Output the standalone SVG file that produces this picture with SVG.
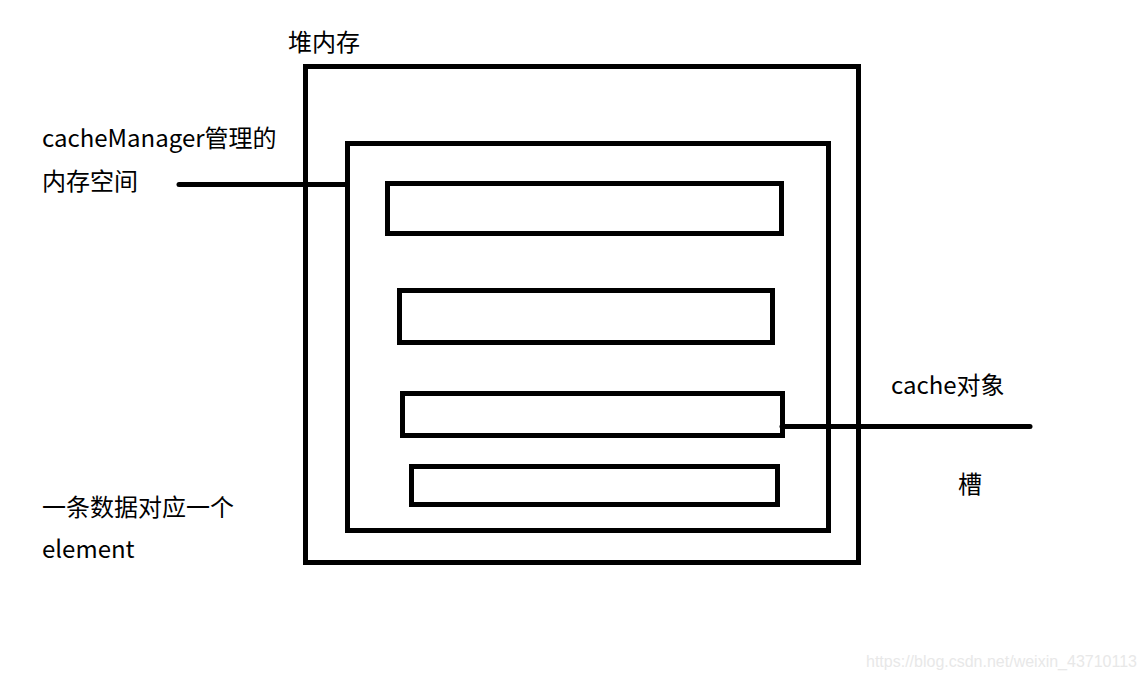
<svg xmlns="http://www.w3.org/2000/svg" width="1145" height="680" viewBox="0 0 1145 680">
<style>
.box{fill:none;stroke:#000;stroke-width:5}
.ln{fill:none;stroke:#000;stroke-width:5;stroke-linecap:round}
.t{font-family:"Microsoft YaHei","Noto Sans CJK SC",sans-serif;font-size:24px;fill:#000}
.wm{font-family:"Liberation Sans",Arial,sans-serif;font-size:16px;fill:#e8e8e8}
</style>
<rect width="1145" height="680" fill="#fff"/>
<g id="heap"><rect class="box" x="305.5" y="66.5" width="553" height="496"/><text class="t" x="288" y="51">堆内存</text></g>
<g id="cacheManager"><rect class="box" x="347.5" y="143.5" width="481" height="387"/></g>
<g id="slot1"><rect class="box" x="387.5" y="183.5" width="394" height="50"/></g>
<g id="slot2"><rect class="box" x="399.5" y="290.5" width="373" height="52"/></g>
<g id="slot3"><rect class="box" x="402.5" y="393.5" width="380" height="42"/></g>
<g id="slot4"><rect class="box" x="411.5" y="466.5" width="366" height="38"/></g>
<g id="connectors">
<line class="ln" x1="179" y1="184.5" x2="347" y2="184.5"/>
<line class="ln" x1="782" y1="426.5" x2="1030" y2="426.5"/>
</g>
<g id="labels">
<text class="t" x="42" y="147">cacheManager管理的</text>
<text class="t" x="42" y="190">内存空间</text>
<text class="t" x="891" y="394">cache对象</text>
<text class="t" x="958" y="493">槽</text>
<text class="t" x="42" y="516">一条数据对应一个</text>
<text class="t" x="42" y="558">element</text>
</g>
<text class="wm" x="866" y="667">https://blog.csdn.net/weixin_43710113</text>
</svg>
